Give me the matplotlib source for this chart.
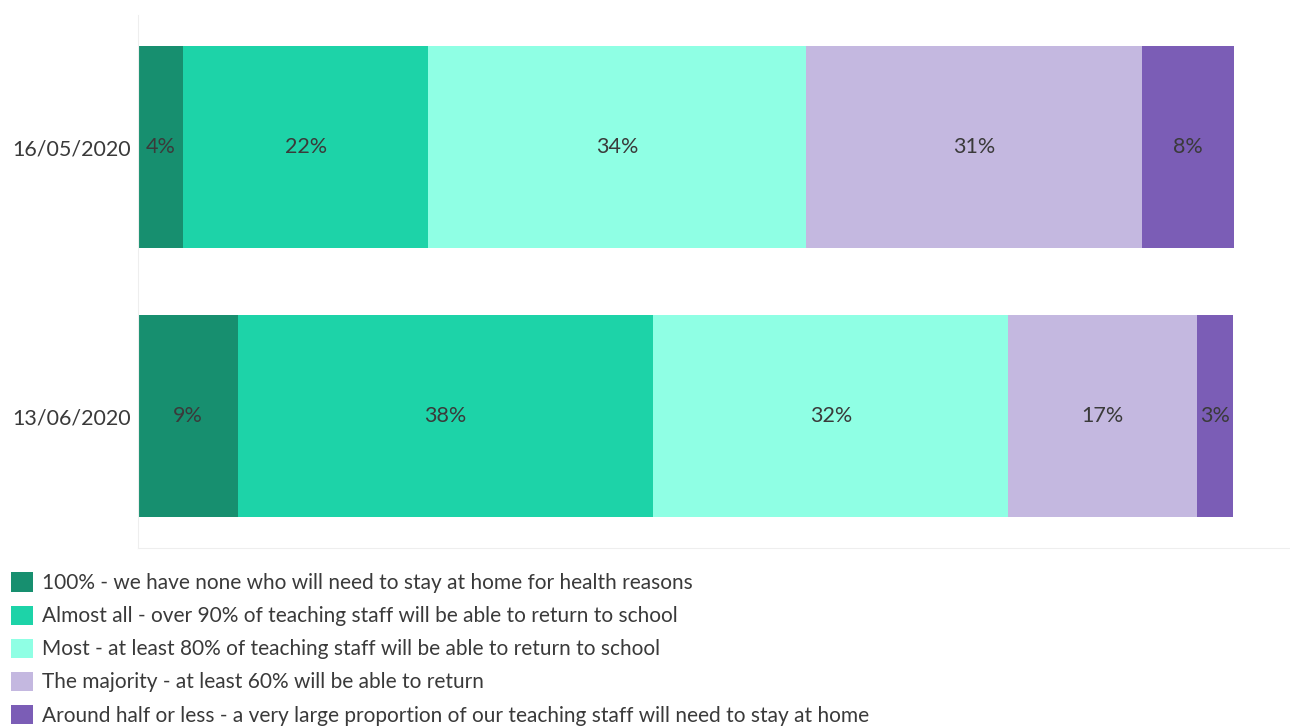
import matplotlib.pyplot as plt
import numpy as np

plt.rcParams['font.family'] = ['Lato', 'DejaVu Sans']

dates = ["16/05/2020", "13/06/2020"]
categories = [
    "100% - we have none who will need to stay at home for health reasons",
    "Almost all - over 90% of teaching staff will be able to return to school",
    "Most - at least 80% of teaching staff will be able to return to school",
    "The majority - at least 60% will be able to return",
    "Around half or less - a very large proportion of our teaching staff will need to stay at home",
]
# share of responses (%) per category, one list per date
values = [
    [4.1, 22.4, 34.4, 30.7, 8.4],
    [9.1, 37.9, 32.4, 17.2, 3.3],
]
colors = ["#178f6f", "#1dd3a8", "#8fffe4", "#c4b8e0", "#7b5db6"]


def main():
    fig = plt.figure(figsize=(12.9, 7.27), dpi=100)
    ax = fig.add_axes([0.107, 0.246, 0.893, 0.733])

    data = np.array(values)
    y = np.arange(len(dates))
    left = np.zeros(len(dates))
    for j, cat in enumerate(categories):
        bars = ax.barh(y, data[:, j], left=left, height=0.75,
                       color=colors[j], label=cat)
        for b, v in zip(bars, data[:, j]):
            ax.text(b.get_x() + b.get_width() / 2, b.get_y() + b.get_height() / 2,
                    f"{round(v)}%", ha="center", va="center",
                    fontsize=15.5, color="#3a3a3a")
        left += data[:, j]

    ax.set_yticks(y)
    ax.set_yticklabels(dates, fontsize=15.5, color="#3a3a3a")
    ax.set_ylim(1.49, -0.49)
    ax.set_xlim(0, 105.1)
    ax.set_xticks([])
    ax.tick_params(axis="y", length=0, pad=5)
    for s in ["top", "right"]:
        ax.spines[s].set_visible(False)
    for s in ["left", "bottom"]:
        ax.spines[s].set_color("#eeeeee")

    fig.legend(loc="upper left", bbox_to_anchor=(0.002, 0.224),
               fontsize=15, frameon=False, handlelength=1.05, handleheight=1.05,
               handletextpad=0.45, labelspacing=0.59, borderaxespad=0,
               labelcolor="#3a3a3a")

    fig.savefig("out.png", dpi=100)


if __name__ == "__main__":
    main()
